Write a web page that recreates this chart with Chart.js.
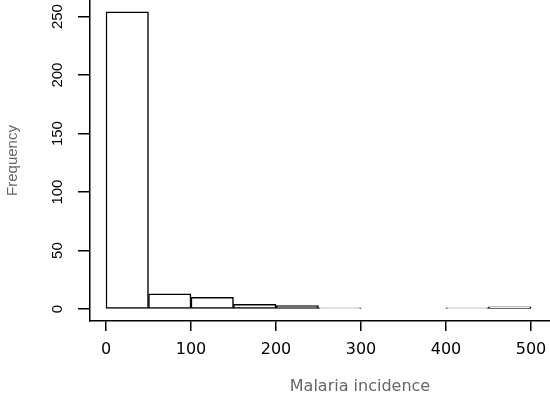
<!DOCTYPE html>
<html>
<head>
<meta charset="utf-8">
<script src="https://cdn.jsdelivr.net/npm/chart.js@4"></script>
<style>
  html, body { margin: 0; padding: 0; background: #fff; overflow: hidden; }
  /* the original figure is cropped on the right, so the plot is wider than the window */
  #wrap { width: 630px; height: 402px; }
</style>
</head>
<body>
<div id="wrap"><canvas id="chart"></canvas></div>
<script>
// histogram bins (left edges) and counts
const binStarts = [0, 50, 100, 150, 200, 250, 300, 350, 400, 450];
const counts = [254, 13, 10, 4, 3, 1, 0, 0, 1, 2];
const binWidth = 50;

const xTicks = [0, 100, 200, 300, 400, 500];
const yTicks = [0, 50, 100, 150, 200, 250];

const xTitle = 'Malaria incidence';
const yTitle = 'Frequency';

function noPad(scale) {
  scale.paddingTop = 0;
  scale.paddingBottom = 0;
  scale.paddingLeft = 0;
  scale.paddingRight = 0;
}

new Chart(document.getElementById('chart'), {
  type: 'bar',
  data: {
    datasets: [{
      data: binStarts.map((s, i) => ({ x: s + binWidth / 2, y: counts[i] })),
      backgroundColor: '#fff',
      borderColor: '#000',
      borderWidth: 1.5,
      borderSkipped: false,
      barPercentage: 1,
      categoryPercentage: 1
    }]
  },
  options: {
    responsive: true,
    maintainAspectRatio: false,
    animation: false,
    plugins: {
      legend: { display: false },
      tooltip: { enabled: false }
    },
    scales: {
      x: {
        type: 'linear',
        min: -18.8,
        max: 616.5,
        offset: false,
        border: { display: true, color: '#000', width: 1.5 },
        grid: {
          offset: false,
          drawOnChartArea: false,
          tickLength: 10,
          color: '#000',
          lineWidth: 1.5
        },
        afterBuildTicks: s => { s.ticks = xTicks.map(v => ({ value: v })); },
        afterFit: s => { s.height = 81; noPad(s); },
        ticks: {
          padding: 9,
          color: '#000',
          font: { family: 'DejaVu Sans', size: 16 }
        },
        title: {
          display: true,
          text: xTitle,
          padding: { top: 0, bottom: 6 },
          font: { family: 'DejaVu Sans', size: 16 }
        }
      },
      y: {
        min: -10.16,
        max: 264.16,
        border: { display: true, color: '#000', width: 1.5 },
        grid: {
          drawOnChartArea: false,
          tickLength: 12,
          color: '#000',
          lineWidth: 1.5
        },
        afterBuildTicks: s => { s.ticks = yTicks.map(v => ({ value: v })); },
        afterFit: s => { s.width = 90; noPad(s); },
        ticks: {
          minRotation: 90,
          maxRotation: 90,
          crossAlign: 'center',
          padding: 8,
          color: '#000',
          font: { family: 'Liberation Sans', size: 15 }
        },
        title: {
          display: true,
          text: yTitle,
          padding: { top: 4, bottom: 0 },
          font: { family: 'Liberation Sans', size: 15 }
        }
      }
    }
  }
});
</script>
</body>
</html>
